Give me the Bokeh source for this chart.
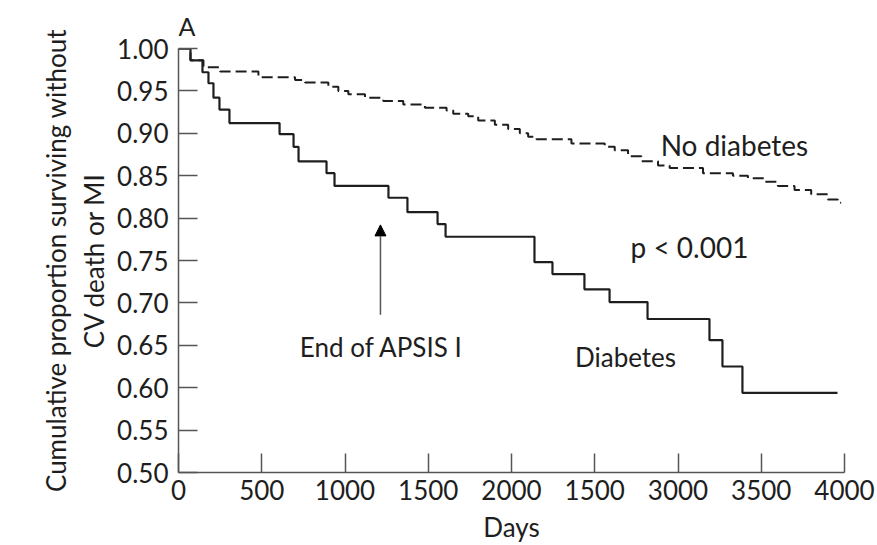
from bokeh.plotting import figure
from bokeh.models import Range1d, FixedTicker, Label, Arrow, NormalHead, Title
from bokeh.embed import file_html
from bokeh.resources import INLINE

# Kaplan-Meier estimates: event day and survival proportion after that day
diab_days = [0, 72, 144, 180, 210, 246, 306, 607, 691, 721, 889, 937, 1261,
             1375, 1556, 1604, 2138, 2246, 2438, 2589, 2817, 3189, 3267, 3387, 3958]
diab_surv = [1.000, 0.986, 0.972, 0.959, 0.942, 0.928, 0.912, 0.899, 0.884,
             0.867, 0.853, 0.838, 0.824, 0.807, 0.793, 0.778, 0.748, 0.734,
             0.716, 0.701, 0.681, 0.656, 0.625, 0.594, 0.594]

nodiab_days = [0, 72, 150, 250, 480, 700, 760, 900, 960, 1020, 1120, 1230,
               1350, 1480, 1610, 1650, 1740, 1800, 1900, 1980, 2050, 2100,
               2150, 2360, 2560, 2620, 2700, 2780, 2880, 2950, 3150, 3330,
               3420, 3520, 3600, 3700, 3800, 3900, 3960, 3980]
nodiab_surv = [1.000, 0.986, 0.978, 0.973, 0.966, 0.963, 0.960, 0.955, 0.950,
               0.946, 0.942, 0.938, 0.934, 0.930, 0.927, 0.923, 0.920, 0.915,
               0.910, 0.905, 0.900, 0.896, 0.893, 0.888, 0.884, 0.880, 0.873,
               0.867, 0.862, 0.859, 0.853, 0.850, 0.847, 0.843, 0.838, 0.833,
               0.828, 0.822, 0.818, 0.818]

x_ticks = [0, 500, 1000, 1500, 2000, 2500, 3000, 3500, 4000]
x_tick_labels = ["0", "500", "1000", "1500", "2000", "1500", "3000", "3500", "4000"]
y_ticks = [0.50, 0.55, 0.60, 0.65, 0.70, 0.75, 0.80, 0.85, 0.90, 0.95, 1.00]

apsis_end_day = 1213

FONT = "Lato"
INK = "#1e1e1e"
AXIS = "#555555"

p = figure(width=877, height=545, output_backend="svg", toolbar_location=None,
           x_range=Range1d(0, 4000), y_range=Range1d(0.5, 1.0),
           min_border_left=178, min_border_right=33,
           min_border_top=47, min_border_bottom=72)
p.outline_line_color = None
p.grid.visible = False
p.background_fill_color = "white"
p.border_fill_color = "white"

# panel letter above the plot area, flush with the y axis
p.title = Title(text="A", align="left", offset=0, standoff=16,
                text_font=FONT, text_font_size="25px", text_font_style="normal",
                text_color=INK)

for ax in (p.xaxis[0], p.yaxis[0]):
    ax.axis_line_color = AXIS
    ax.axis_line_width = 1.5
    ax.major_tick_line_color = AXIS
    ax.major_tick_line_width = 1.5
    ax.major_tick_in = 19
    ax.major_tick_out = 0
    ax.minor_tick_line_color = None
    ax.major_label_text_font = FONT
    ax.major_label_text_font_size = "26px"
    ax.major_label_text_color = INK
    ax.axis_label_text_font = FONT
    ax.axis_label_text_font_size = "26px"
    ax.axis_label_text_font_style = "normal"
    ax.axis_label_text_color = INK

p.xaxis.ticker = FixedTicker(ticks=x_ticks)
p.xaxis.major_label_overrides = {t: s for t, s in zip(x_ticks, x_tick_labels)}
p.xaxis.major_label_standoff = 7
p.xaxis.axis_label = "Days"
p.xaxis.axis_label_standoff = 8

p.yaxis.ticker = FixedTicker(ticks=y_ticks)
p.yaxis.major_label_overrides = {t: f"{t:.2f}" for t in y_ticks}
p.yaxis.major_label_standoff = 10
p.yaxis.axis_label = "Cumulative proportion surviving without\nCV death or MI"
p.yaxis.axis_label_standoff = 4

p.step(nodiab_days, nodiab_surv, mode="after", line_color=INK, line_width=2,
       line_dash="11 5")
p.step(diab_days, diab_surv, mode="after", line_color=INK, line_width=2.2)

p.add_layout(Arrow(end=NormalHead(size=11, fill_color="black", line_color="black"),
                   x_start=apsis_end_day, y_start=0.686,
                   x_end=apsis_end_day, y_end=0.792,
                   line_color=AXIS, line_width=1.5))


def note(text, x, y, size="26px"):
    p.add_layout(Label(x=x, y=y, text=text, text_font=FONT, text_font_size=size,
                       text_color=INK, text_align="center",
                       text_baseline="alphabetic"))


note("No diabetes", 3339, 0.886, size="28px")
note("p < 0.001", 3069, 0.766, size="28px")
note("End of APSIS I", 1219, 0.648)
note("Diabetes", 2685, 0.6365)

open("out.html", "w").write(file_html(p, INLINE))
